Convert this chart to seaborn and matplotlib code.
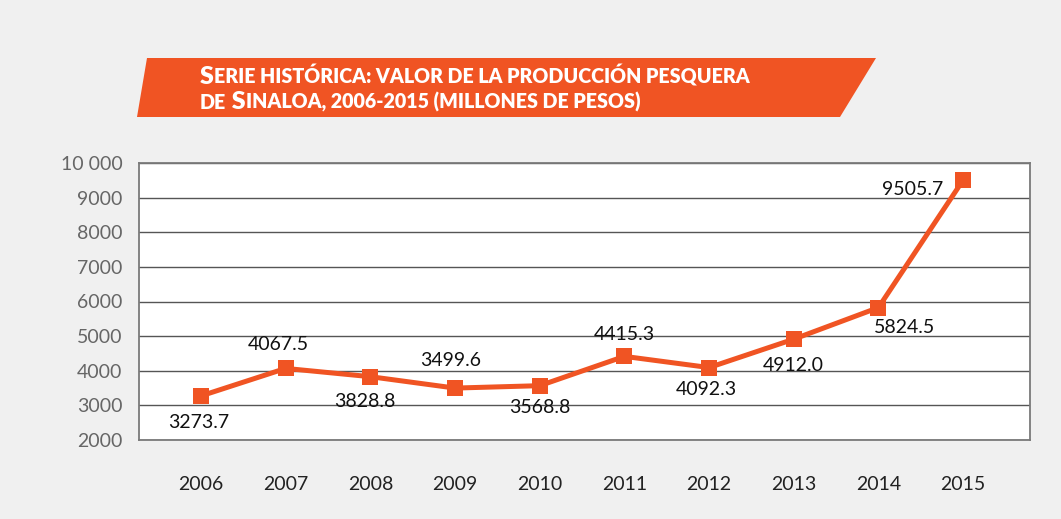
import numpy as np
import pandas as pd
import matplotlib
matplotlib.use("Agg")
import matplotlib.pyplot as plt
import seaborn as sns
from matplotlib.patches import Polygon
from matplotlib.offsetbox import TextArea, HPacker, VPacker, AnchoredOffsetbox

# ---- data ----
years = ["2006", "2007", "2008", "2009", "2010", "2011", "2012", "2013", "2014", "2015"]
values = [3273.7, 4067.5, 3828.8, 3499.6, 3568.8, 4415.3, 4092.3, 4912.0, 5824.5, 9505.7]
value_labels = ["3273.7", "4067.5", "3828.8", "3499.6", "3568.8",
                "4415.3", "4092.3", "4912.0", "5824.5", "9505.7"]
y_ticks = [2000, 3000, 4000, 5000, 6000, 7000, 8000, 9000, 10000]
y_tick_labels = ["2000", "3000", "4000", "5000", "6000", "7000", "8000", "9000", "10 000"]
title_line1 = [("S", "big"), ("ERIE HISTÓRICA: VALOR DE LA PRODUCCIÓN PESQUERA", "small")]
title_line2 = [("DE", "small"), (" S", "big"), ("INALOA, 2006-2015 (MILLONES DE PESOS)", "small")]

# label offsets (points) relative to each marker
label_offsets = [(-2, -19), (-5, 17), (-4, -18), (-3, 20), (0, -16),
                 (0, 16), (-2, -16), (0, -19), (19, -14), (-36, -7)]

ORANGE = "#f05423"
BG = "#f0f0f0"

sns.set_theme(style="white")
plt.rcParams["font.family"] = ["Lato", "DejaVu Sans"]

fig = plt.figure(figsize=(10.61, 5.19), dpi=100, facecolor=BG)

# background axes in pixel coordinates for the banner
bg = fig.add_axes([0, 0, 1, 1], zorder=0)
bg.set_xlim(0, 1061)
bg.set_ylim(519, 0)
bg.axis("off")
bg.add_patch(Polygon([(147, 58), (876, 58), (840, 117), (137, 117)],
                     closed=True, facecolor=ORANGE, edgecolor="none"))

sizes = {"big": 18, "small": 14.1}
def make_line(parts):
    return HPacker(children=[TextArea(t, textprops=dict(color="white", fontweight="heavy",
                                                        fontsize=sizes[s]))
                             for t, s in parts],
                   align="baseline", pad=0, sep=0)

title_box = VPacker(children=[make_line(title_line1), make_line(title_line2)],
                    align="left", pad=0, sep=2)
anch = AnchoredOffsetbox(loc="upper left", child=title_box, pad=0, borderpad=0,
                         frameon=False, bbox_to_anchor=(200, 65),
                         bbox_transform=bg.transData)
bg.add_artist(anch)

# main axes
ax = fig.add_axes([139 / 1061, 1 - 440 / 519, 891 / 1061, 277 / 519], zorder=1)
ax.set_facecolor("white")
df = pd.DataFrame({"pos": np.arange(len(years)), "value": values})
sns.lineplot(data=df, x="pos", y="value", ax=ax, color=ORANGE, linewidth=3.6,
             marker="s", markersize=12, markeredgewidth=0, zorder=3)

ax.set_xlim(-0.732, 9.79)
ax.set_ylim(2000, 10000)
ax.set_xticks(np.arange(len(years)), years)
ax.set_yticks(y_ticks, y_tick_labels)
ax.tick_params(axis="x", length=0, pad=26, labelsize=14, labelcolor="#222222")
ax.tick_params(axis="y", length=0, pad=12, labelsize=14, labelcolor="#666666")
ax.yaxis.grid(True, color="#555555", linewidth=1.0)
ax.xaxis.grid(False)
ax.set_axisbelow(True)
for sp in ax.spines.values():
    sp.set_color("#7a7a7a")
    sp.set_linewidth(1.3)
ax.set_xlabel("")
ax.set_ylabel("")

for i, (v, lab) in enumerate(zip(values, value_labels)):
    dx, dy = label_offsets[i]
    ax.annotate(lab, xy=(i, v), xytext=(dx, dy), textcoords="offset points",
                ha="center", va="center", fontsize=14, color="#111111", zorder=4)

fig.savefig("out.png", dpi=100, facecolor=BG)
